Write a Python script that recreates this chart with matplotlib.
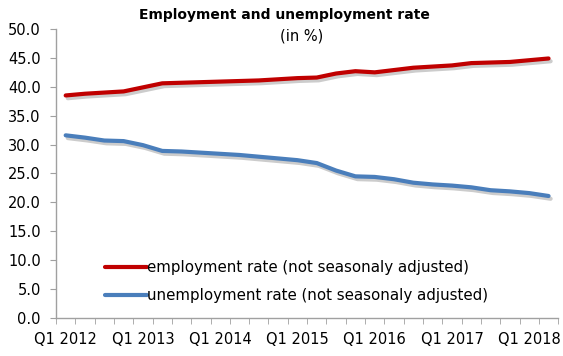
import matplotlib
matplotlib.use("Agg")
import matplotlib.pyplot as plt
import matplotlib.patheffects as pe
import numpy as np

# quarterly series, Q1 2012 .. Q2 2018
quarters = [f"Q{q} {y}" for y in range(2012, 2019) for q in range(1, 5)][:26]
employment = [38.5, 38.8, 39.0, 39.2, 39.9, 40.6, 40.7, 40.8, 40.9, 41.0,
              41.1, 41.3, 41.5, 41.6, 42.3, 42.7, 42.5, 42.9, 43.3, 43.5,
              43.7, 44.1, 44.2, 44.3, 44.6, 44.9]
unemployment = [31.6, 31.2, 30.7, 30.6, 29.9, 28.9, 28.8, 28.6, 28.4, 28.2,
                27.9, 27.6, 27.3, 26.8, 25.5, 24.5, 24.4, 24.0, 23.4, 23.1,
                22.9, 22.6, 22.1, 21.9, 21.6, 21.1]

plt.rcParams['font.family'] = ['DejaVu Sans']

fig = plt.figure(figsize=(5.63, 3.56), dpi=100)
ax = fig.add_axes([0.0995, 0.107, 0.892, 0.8115])

x = np.arange(len(quarters))
shadow = [pe.SimpleLineShadow(offset=(1.5, -2.0), shadow_color='#808080', alpha=0.4),
          pe.Normal()]
ax.plot(x, employment, color='#C00000', lw=3.0, solid_capstyle='round',
        label='employment rate (not seasonaly adjusted)', path_effects=shadow)
ax.plot(x, unemployment, color='#4A7EBB', lw=3.0, solid_capstyle='round',
        label='unemployment rate (not seasonaly adjusted)', path_effects=shadow)

ax.set_xlim(-0.5, len(quarters) - 0.5)
ax.set_ylim(0, 50)
ax.set_yticks(np.arange(0, 50.1, 5))
ax.set_yticklabels([f"{v:.1f}" for v in np.arange(0, 50.1, 5)], fontsize=10.5)

# labels every fourth quarter, tick marks on category boundaries
ax.set_xticks(x[::4])
ax.set_xticklabels(quarters[::4], fontsize=10.5)
ax.set_xticks(np.arange(-0.5, len(quarters)), minor=True)
ax.tick_params(axis='x', which='major', length=0, pad=10)
ax.tick_params(axis='x', which='minor', length=4, color='#A0A0A0')
ax.tick_params(axis='y', length=4, color='#A0A0A0', pad=7)

for s in ['top', 'right']:
    ax.spines[s].set_visible(False)
for s in ['left', 'bottom']:
    ax.spines[s].set_color('#A0A0A0')
    ax.spines[s].set_linewidth(1.0)

fig.text(0.505, 0.958, 'Employment and unemployment rate', ha='center', va='center',
         fontsize=10, fontweight='bold')
fig.text(0.535, 0.9, '(in %)', ha='center', va='center', fontsize=10.5)

leg = ax.legend(loc='lower left', bbox_to_anchor=(0.085, 0.03), frameon=False,
                fontsize=10.8, handlelength=2.8, handletextpad=0.05,
                labelspacing=0.85, borderaxespad=0)
for line in leg.get_lines():
    line.set_path_effects([])
    line.set_linewidth(3.0)

fig.savefig('out.png', dpi=100)
